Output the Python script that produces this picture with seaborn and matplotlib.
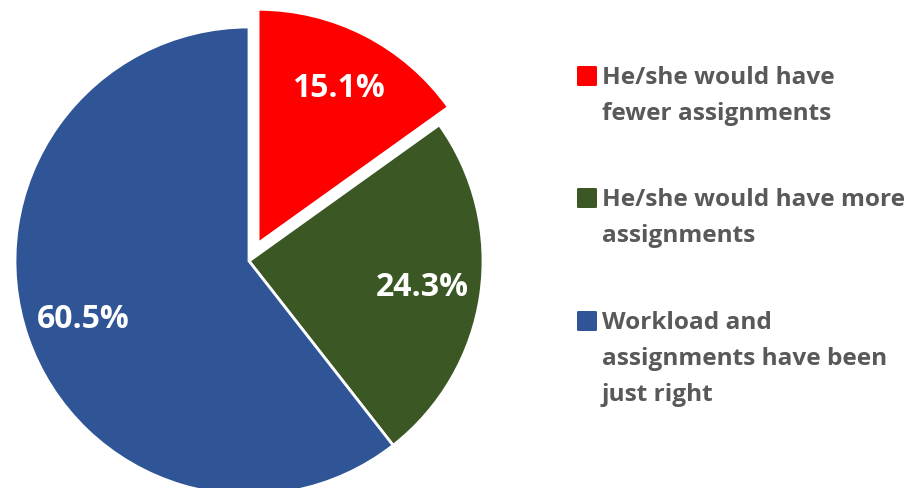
import matplotlib
matplotlib.use("Agg")
import matplotlib.pyplot as plt
from matplotlib.patches import FancyBboxPatch
import seaborn as sns

categories = ["He/she would have\nfewer assignments",
              "He/she would have more\nassignments",
              "Workload and\nassignments have been\njust right"]
values = [15.1, 24.3, 60.5]
colors = ["#FF0000", "#3A5724", "#2F5597"]
explode = [0.085, 0.0, 0.0]

sns.set_theme(style="white")
plt.rcParams['font.family'] = ['Open Sans', 'DejaVu Sans']

W, H = 915, 489
fig = plt.figure(figsize=(W / 100, H / 100), dpi=100)
fig.patch.set_facecolor("white")
ax = fig.add_axes([0, 0, 1, 1])

R = 234.0
cx, cy = 249.0, H - 262.0

labels_iter = iter(values)
def fmt(_p):
    return f"{next(labels_iter):.1f}%"

wedges, texts, autotexts = ax.pie(
    values, colors=colors, explode=explode, startangle=90, counterclock=False,
    autopct=fmt, pctdistance=0.75,
    wedgeprops=dict(edgecolor="white", linewidth=2),
    textprops=dict(color="white", fontsize=23, fontweight="bold"))
ax.set_aspect("auto")
ax.set_xlim(-cx / R, (W - cx) / R)
ax.set_ylim(-cy / R, (H - cy) / R)
ax.axis("off")

# legend drawn as text boxes in figure pixel space
tops = [67, 189, 312]
for col, lab, top in zip(colors, categories, tops):
    sq = FancyBboxPatch((577 / W, 1 - (top + 20) / H), 20 / W, 20 / H,
                        boxstyle="round,pad=0,rounding_size=0.002",
                        transform=fig.transFigure, facecolor=col,
                        edgecolor="none")
    fig.patches.append(sq)
    fig.text(602 / W, 1 - (top - 1) / H, lab, fontsize=17.6, fontweight="bold",
             color="#595959", va="top", ha="left", linespacing=1.66)

fig.savefig("out.png", dpi=100, facecolor="white")
